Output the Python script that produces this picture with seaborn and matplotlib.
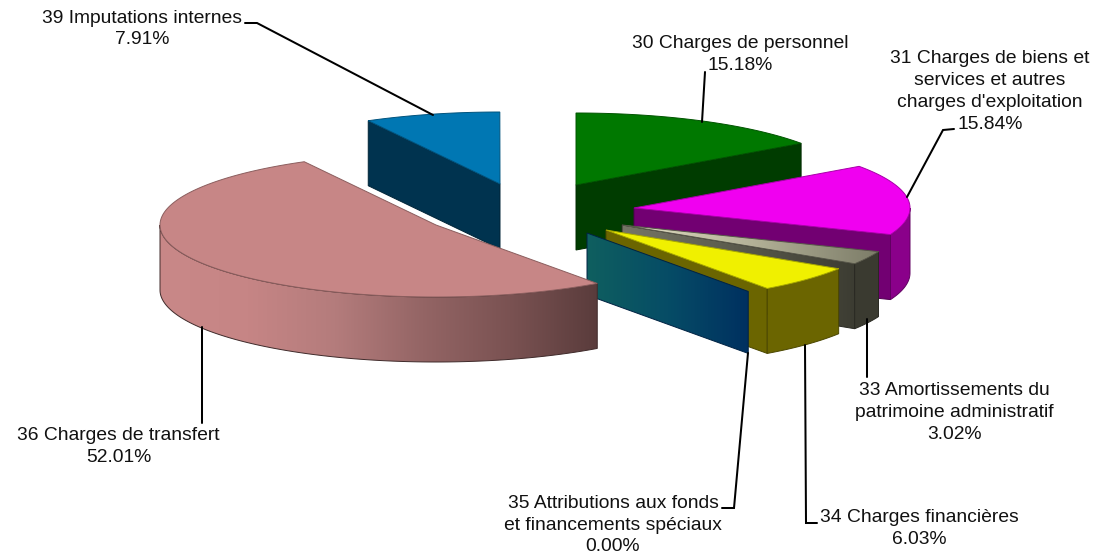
import numpy as np
import seaborn as sns
import matplotlib
matplotlib.use('Agg')
import matplotlib.pyplot as plt
from matplotlib.colors import to_rgb
from matplotlib.patches import Polygon

# budget shares, clockwise from 12 o'clock
accounts = ['30', '31', '33', '34', '35', '36', '39']
shares = [15.18, 15.84, 3.02, 6.03, 0.00, 52.01, 7.91]
label_names = ['30 Charges de personnel',
               "31 Charges de biens et\nservices et autres\ncharges d'exploitation",
               '33 Amortissements du\npatrimoine administratif',
               '34 Charges financières',
               '35 Attributions aux fonds\net financements spéciaux',
               '36 Charges de transfert',
               '39 Imputations internes']

# layout in picture pixels
RX, RY, DEPTH = 276, 72, 65
apex = {'30': (576, 185), '31': (634, 208), '33': (622, 225), '34': (606, 230),
        '35': (587, 233), '36': (436, 225), '39': (500, 184)}
depth = {'35': 62}
top_col = {'30': ['#007800'], '31': ['#f000f0'], '33': ['#e4e0c4', '#b4b298', '#7c7c68'],
           '34': ['#f0f000'], '35': ['#f0f000'], '36': ['#c78686'], '39': ['#0077b3']}
cut_col = {'30': ['#003c00'], '31': ['#720072'], '33': ['#767666', '#5a5a4c', '#3c3c32'],
           '34': ['#6b6500'], '35': ['#0f5f5f', '#064c66', '#003060'], '36': ['#5a3c3c'],
           '39': ['#00334f']}
wall_col = {'30': ['#006000'], '31': ['#8a008a'], '33': ['#3a3a30'], '34': ['#6b6500'],
            '35': ['#6b6500'], '39': ['#005a88'],
            '36': ['#c98888', '#c68585', '#b47c7c', '#946565', '#7a5252', '#5a3c3c']}
label_pos = {'30': (740.5, 54.5), '31': (990, 91.5), '33': (954.5, 412.5), '34': (919, 528.5),
             '35': (613, 525), '36': (118.5, 446.5), '39': (142, 29)}
leaders = {'30': [(705, 72), (702, 122)],
           '31': [(954, 129), (943, 130), (907, 197)],
           '33': [(867, 319), (867, 377)],
           '34': [(817, 523), (806, 523), (805, 345)],
           '35': [(722, 508), (734, 508), (748, 353)],
           '36': [(202, 327), (202, 423)],
           '39': [(245, 23), (257, 23), (433, 115)]}

sns.set_theme(style='white')
plt.rcParams['font.family'] = ['Liberation Sans', 'DejaVu Sans']

fig, ax = plt.subplots(figsize=(11.06, 5.58), dpi=100)
fig.subplots_adjust(0, 0, 1, 1)
ax.set_axis_off()


def paint(points, colors, z):
    points = np.asarray(points)
    edge = tuple(0.7 * v for v in to_rgb(colors[-1]))
    if len(colors) == 1:
        ax.add_patch(Polygon(points, fc=colors[0], ec=edge, lw=0.7, zorder=z))
        return
    cmap = sns.blend_palette(colors, as_cmap=True)
    x0, x1 = points[:, 0].min(), points[:, 0].max()
    y0, y1 = points[:, 1].min(), points[:, 1].max()
    im = ax.imshow(np.linspace(0, 1, 256)[None, :], extent=(x0, x1, y1, y0), cmap=cmap,
                   aspect='auto', zorder=z, interpolation='bilinear')
    im.set_clip_path(Polygon(points, transform=ax.transData))
    ax.add_patch(Polygon(points, fc='none', ec=edge, lw=0.7, zorder=z))


def rim(center, t):
    t = np.radians(t)
    return center[0] + RX * np.cos(t), center[1] - RY * np.sin(t)


def cut_face(center, t, h):
    x, y = rim(center, t)
    return [center, (x, y), (x, y + h), (center[0], center[1] + h)]


# slices are painted back to front
order = ['39', '30', '31', '33', '34', '35', '36']
angles = 90 - np.cumsum([0] + shares) * 3.6
z = 2
for acc in order:
    i = accounts.index(acc)
    start, end = angles[i], angles[i + 1]
    c = apex[acc]
    h = depth.get(acc, DEPTH)
    for t, normal in ((start, start + 90), (end, end - 90)):
        if np.sin(np.radians(normal)) < -1e-6:
            paint(cut_face(c, t, h), cut_col[acc], z)
            z += 1
    # outer wall only where the rim faces the viewer, walked from start to end
    front = np.arange(-360, 181, 1.0)[::-1]
    sel = front[(front <= start) & (front >= end) & (np.sin(np.radians(front)) <= 0)]
    if len(sel) > 1 and shares[i] > 0:
        up = [rim(c, t) for t in sel]
        # close the wall exactly on the slice edge
        if np.sin(np.radians(start)) < 0:
            up.insert(0, rim(c, start))
        if np.sin(np.radians(end)) < 0:
            up.append(rim(c, end))
        down = [(x, y + h) for x, y in up]
        paint(up + down[::-1], wall_col[acc], z)
        z += 1
    if shares[i] > 0:
        arc = [rim(c, t) for t in np.linspace(start, end, 160)]
        paint([c] + arc, top_col[acc], z)
        z += 1

for acc in accounts:
    xs, ys = zip(*leaders[acc])
    ax.plot(xs, ys, color='black', lw=1.45, zorder=z, solid_joinstyle='miter')
    share = shares[accounts.index(acc)]
    text = label_names[accounts.index(acc)] + f'\n{share:.2f}%'
    x, y = label_pos[acc]
    ax.text(x, y, text, ha='center', va='center', fontsize=13.9, color='#111111',
            linespacing=1.36, zorder=z + 1)

ax.set_xlim(0, 1106)
ax.set_ylim(558, 0)
fig.savefig('out.png', dpi=100, facecolor='white')
